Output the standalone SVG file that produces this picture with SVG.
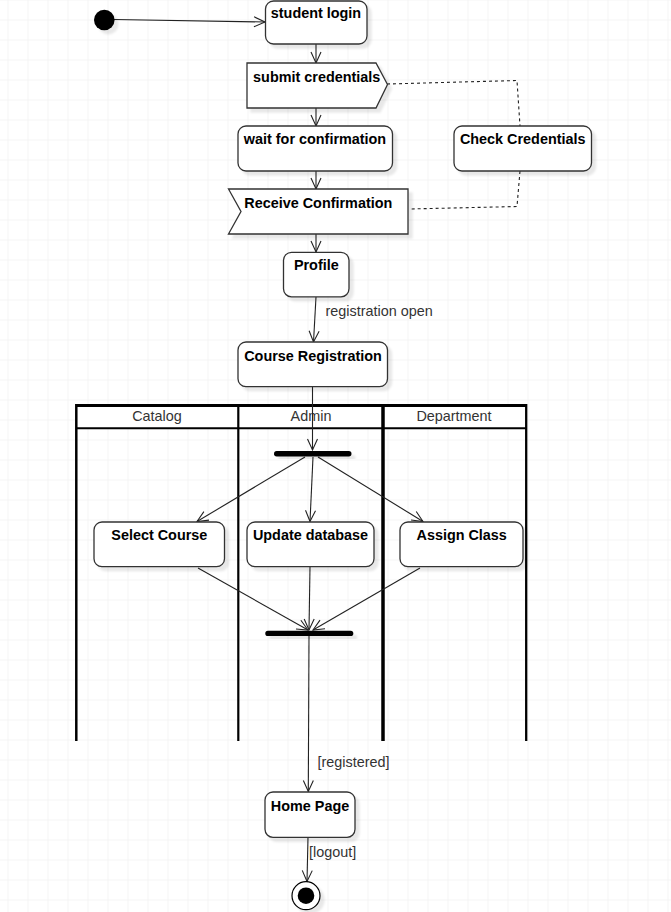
<svg xmlns="http://www.w3.org/2000/svg" width="671" height="912" viewBox="0 0 671 912">
  <defs>
    <pattern id="grid" x="7.5" y="19.5" width="20" height="20" patternUnits="userSpaceOnUse">
      <path d="M0,0 H20 M0,0 V20" fill="none" stroke="#ebebeb" stroke-width="1"/>
    </pattern>
    <filter id="shadow" x="-20%" y="-20%" width="150%" height="160%">
      <feDropShadow dx="4" dy="4" stdDeviation="1.2" flood-color="#000" flood-opacity="0.09"/>
    </filter>
    <marker id="open" markerWidth="14" markerHeight="12" refX="12" refY="6" orient="auto" markerUnits="userSpaceOnUse">
      <path d="M1,1 L12,6 L1,11" fill="none" stroke="#222" stroke-width="1.1"/>
    </marker>
    <style>
      .node { fill: #fff; stroke: #333; stroke-width: 1.3; filter: url(#shadow); }
      .lbl { font-family: "Liberation Sans", Arial, Helvetica, sans-serif; font-size: 14.4px; font-weight: bold; fill: #000; text-anchor: middle; }
      .txt { font-family: "Liberation Sans", Arial, Helvetica, sans-serif; font-size: 14.4px; fill: #333; }
      .mid { text-anchor: middle; }
      .edge { fill: none; stroke: #222; stroke-width: 1.1; marker-end: url(#open); }
      .dash { fill: none; stroke: #222; stroke-width: 1.1; stroke-dasharray: 3 3; }
      .bar { fill: #000; filter: url(#shadow); }
      .lane { stroke: #000; fill: none; }
    </style>
  </defs>

  <!-- background grid -->
  <rect x="0" y="0" width="671" height="912" fill="#fff"/>
  <rect x="0" y="0" width="671" height="912" fill="url(#grid)"/>

  <!-- swimlanes -->
  <g id="swimlanes">
    <rect x="77" y="405" width="449" height="24" fill="#fff"/>
    <line class="lane" x1="76" y1="405.5" x2="527" y2="405.5" stroke-width="3"/>
    <line class="lane" x1="77" y1="428.3" x2="526" y2="428.3" stroke-width="2" stroke="#333"/>
    <line class="lane" x1="76.3" y1="404" x2="76.3" y2="741" stroke-width="2.5"/>
    <line class="lane" x1="238.3" y1="404" x2="238.3" y2="741" stroke-width="2.2"/>
    <line class="lane" x1="383" y1="404" x2="383" y2="741" stroke-width="3.5"/>
    <line class="lane" x1="526.2" y1="404" x2="526.2" y2="741" stroke-width="2.3"/>
    <text class="txt mid" x="157" y="421">Catalog</text>
    <text class="txt mid" x="311" y="421">Admin</text>
    <text class="txt mid" x="454" y="421">Department</text>
  </g>

  <!-- connectors -->
  <g id="connectors">
    <line class="edge" x1="114" y1="19.5" x2="265" y2="22"/>
    <line class="edge" x1="316" y1="44" x2="316" y2="63"/>
    <line class="edge" x1="316" y1="108" x2="316" y2="126"/>
    <line class="edge" x1="316" y1="171" x2="316" y2="189"/>
    <line class="edge" x1="316" y1="234" x2="316" y2="252"/>
    <line class="edge" x1="316" y1="297" x2="313.5" y2="342"/>
    <line class="edge" x1="312.5" y1="387" x2="312.5" y2="450"/>
    <line class="edge" x1="305" y1="457" x2="197" y2="521.5"/>
    <line class="edge" x1="313" y1="457" x2="310" y2="521.5"/>
    <line class="edge" x1="318" y1="457" x2="423" y2="521.5"/>
    <line class="edge" x1="198" y1="568" x2="308" y2="630"/>
    <line class="edge" x1="310" y1="567" x2="309" y2="630"/>
    <line class="edge" x1="420" y1="568" x2="313" y2="630"/>
    <line class="edge" x1="309" y1="636" x2="308.3" y2="791.5"/>
    <line class="edge" x1="308" y1="837" x2="307" y2="881.5"/>
    <polyline class="dash" points="387,84 517,80.5 520,126"/>
    <polyline class="dash" points="520,171 517,206.5 409,209"/>
    <text class="txt" x="325.5" y="316">registration open</text>
    <text class="txt" x="317.5" y="766.5">[registered]</text>
    <text class="txt" x="309" y="856.5">[logout]</text>
  </g>

  <!-- nodes -->
  <g id="start">
    <circle cx="104.3" cy="20" r="10.3" fill="#000" filter="url(#shadow)"/>
  </g>
  <g id="student-login">
    <rect class="node" x="265.5" y="1" width="101.5" height="43" rx="8"/>
    <text class="lbl" x="316" y="18.3">student login</text>
  </g>
  <g id="submit-credentials">
    <polygon class="node" points="247,63 376,63 387.5,84.5 376,108 247,108"/>
    <text class="lbl" x="316.7" y="81.7">submit credentials</text>
  </g>
  <g id="wait-for-confirmation">
    <rect class="node" x="238" y="126" width="154.5" height="45" rx="8"/>
    <text class="lbl" x="315" y="144.3">wait for confirmation</text>
  </g>
  <g id="check-credentials">
    <rect class="node" x="454" y="126" width="137.5" height="45" rx="8"/>
    <text class="lbl" x="522.7" y="144.3">Check Credentials</text>
  </g>
  <g id="receive-confirmation">
    <polygon class="node" points="228.5,189 408,189 408,234 228.5,234 241,211.5"/>
    <text class="lbl" x="318.3" y="207.7">Receive Confirmation</text>
  </g>
  <g id="profile">
    <rect class="node" x="283.5" y="252.3" width="65.5" height="44.5" rx="8"/>
    <text class="lbl" x="316.3" y="270">Profile</text>
  </g>
  <g id="course-registration">
    <rect class="node" x="238" y="342" width="149.5" height="44.7" rx="8"/>
    <text class="lbl" x="313" y="360.7">Course Registration</text>
  </g>
  <g id="fork">
    <rect class="bar" x="274" y="451" width="77.5" height="5.5" rx="2.7"/>
  </g>
  <g id="select-course">
    <rect class="node" x="94" y="522" width="130.5" height="44.7" rx="8"/>
    <text class="lbl" x="159.3" y="540.3">Select Course</text>
  </g>
  <g id="update-database">
    <rect class="node" x="247" y="522" width="127" height="44.7" rx="8"/>
    <text class="lbl" x="310.5" y="540.3">Update database</text>
  </g>
  <g id="assign-class">
    <rect class="node" x="400" y="522" width="123" height="44.7" rx="8"/>
    <text class="lbl" x="461.7" y="540.3">Assign Class</text>
  </g>
  <g id="join">
    <rect class="bar" x="265.3" y="630.7" width="88" height="5.3" rx="2.6"/>
  </g>
  <g id="home-page">
    <rect class="node" x="265" y="792" width="90" height="45.3" rx="8"/>
    <text class="lbl" x="310" y="810.7">Home Page</text>
  </g>
  <g id="end">
    <circle cx="306" cy="895.7" r="14" fill="#fff" stroke="#000" stroke-width="1.2" filter="url(#shadow)"/>
    <circle cx="306" cy="895.7" r="8.3" fill="#000"/>
  </g>
</svg>
